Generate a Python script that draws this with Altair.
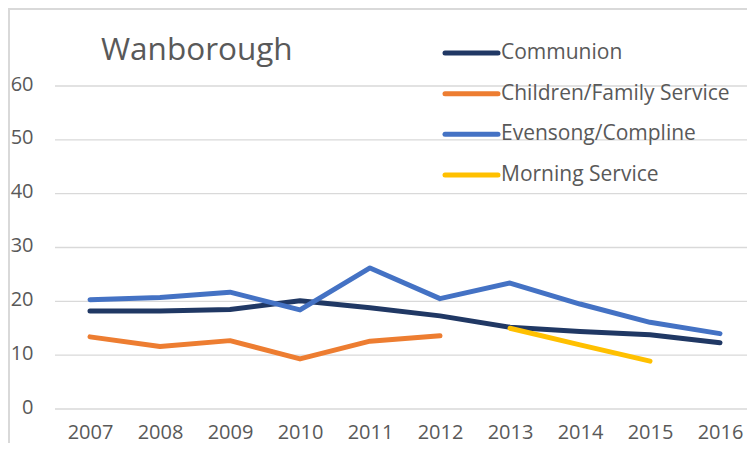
import altair as alt
import pandas as pd

TITLE = "Wanborough"
YEARS = ["2007", "2008", "2009", "2010", "2011", "2012", "2013", "2014", "2015", "2016"]
SERIES = ["Communion", "Children/Family Service", "Evensong/Compline", "Morning Service"]
COLORS = ["#203864", "#ED7D31", "#4472C4", "#FFC000"]

communion = [18.2, 18.2, 18.5, 20.1, 18.8, 17.3, 15.2, 14.4, 13.8, 12.3]
children = [13.4, 11.6, 12.7, 9.3, 12.6, 13.6, None, None, None, None]
evensong = [20.3, 20.7, 21.7, 18.4, 26.2, 20.5, 23.4, 19.5, 16.1, 14.0]
morning = [None, None, None, None, None, None, 15.0, 11.9, 8.9, None]
Y_TICKS = [0, 10, 20, 30, 40, 50, 60]

rows = []
for name, vals in zip(SERIES, [communion, children, evensong, morning]):
    for yr, v in zip(YEARS, vals):
        if v is not None:
            rows.append({"year": yr, "value": v, "series": name})
df = pd.DataFrame(rows)

TXT = "#595959"
FONT = "Open Sans"
W, H = 692, 323

color = alt.Color("series:N", scale=alt.Scale(domain=SERIES, range=COLORS), legend=None)
y_scale = alt.Scale(domain=[0, 60], nice=False)

grid = alt.Chart(pd.DataFrame({"v": Y_TICKS})).mark_rule(color="#D9D9D9", strokeWidth=1.3).encode(
    y=alt.Y("v:Q", scale=y_scale,
            axis=alt.Axis(title=None, values=Y_TICKS, domain=False, ticks=False, tickSize=0,
                          labelPadding=22, labelFontSize=20, labelColor=TXT, labelFont=FONT,
                          labelOffset=-2, grid=False)),
    x=alt.value(0), x2=alt.value(W),
)

lines = alt.Chart(df).mark_line(strokeWidth=5, strokeCap="round", strokeJoin="round").encode(
    x=alt.X("year:O", sort=YEARS, scale=alt.Scale(type="point", range=[35, 665], padding=0),
            axis=alt.Axis(title=None, labelAngle=0, domain=False, ticks=False, tickSize=0,
                          labelPadding=13, labelFontSize=20, labelColor=TXT, labelFont=FONT, grid=False)),
    y=alt.Y("value:Q", scale=y_scale, axis=None),
    color=color,
    order=alt.Order("year:O"),
)

leg_df = pd.DataFrame({"series": SERIES})
leg_y = alt.Y("series:N", scale=alt.Scale(type="point", domain=SERIES, range=[-33, 89], padding=0), axis=None)

leg_sw = alt.Chart(leg_df).mark_rule(strokeWidth=5, strokeCap="round").encode(
    x=alt.value(390), x2=alt.value(443), y=leg_y, color=color
)
leg_txt = alt.Chart(leg_df).mark_text(align="left", baseline="middle", fontSize=21, font=FONT,
                                      color=TXT, dy=0).encode(
    x=alt.value(446), y=leg_y, text="series:N"
)

title_df = pd.DataFrame({"t": [TITLE]})
title = alt.Chart(title_df).mark_text(align="left", baseline="alphabetic", fontSize=31.5, font=FONT,
                                      color=TXT).encode(
    x=alt.value(46), y=alt.value(-26), text="t:N"
)

border_top = alt.Chart(title_df).mark_rule(color="#D9D9D9", strokeWidth=2).encode(
    x=alt.value(-47), x2=alt.value(W), y=alt.value(-77)
)
border_left = alt.Chart(title_df).mark_rule(color="#D9D9D9", strokeWidth=2).encode(
    x=alt.value(-46), y=alt.value(-78), y2=alt.value(357)
)

chart = alt.layer(border_top, border_left, grid, lines, leg_sw, leg_txt, title).resolve_scale(
    y="independent"
).properties(
    width=W, height=H,
    autosize=alt.AutoSizeParams(type="none"),
    padding={"left": 47, "top": 78, "right": 0, "bottom": 34},
    background="white",
).configure_view(stroke=None)

chart.save("out.html", embed_options={"renderer": "svg", "actions": False})
